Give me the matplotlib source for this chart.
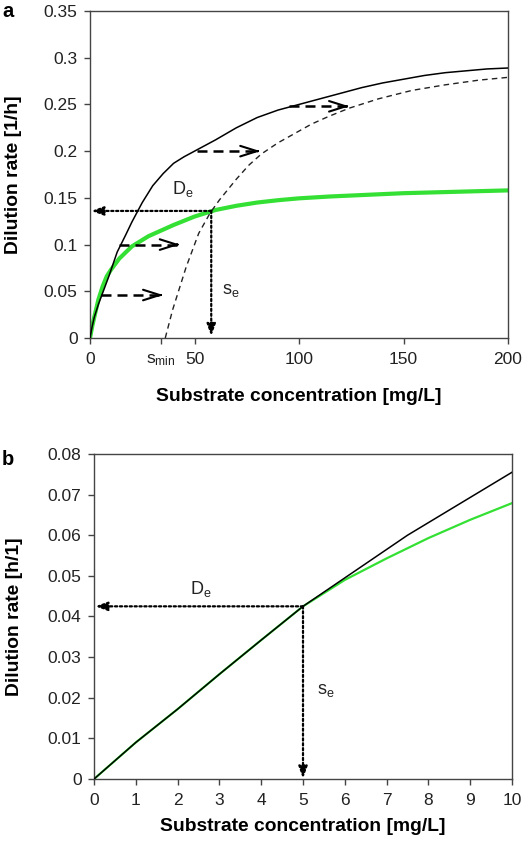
import matplotlib
matplotlib.use("Agg")
import matplotlib.pyplot as plt

plt.rcParams['font.family'] = ['Liberation Sans', 'DejaVu Sans']
plt.rcParams['mathtext.fontset'] = 'custom'
plt.rcParams['mathtext.rm'] = 'Liberation Sans'
plt.rcParams['mathtext.it'] = 'Liberation Sans:italic'

# ---- panel a data ----
s_black_a = [0, 1, 2, 4, 6, 9, 13, 17, 20, 25, 30, 35, 40, 45, 50, 60, 70, 80, 90, 100, 110, 120,
             130, 140, 150, 160, 170, 180, 190, 200]
d_black_a = [0, 0.012, 0.022, 0.036, 0.048, 0.066, 0.092, 0.110, 0.124, 0.145, 0.163, 0.176, 0.187,
             0.194, 0.200, 0.212, 0.225, 0.236, 0.244, 0.250, 0.256, 0.262, 0.268, 0.273, 0.277,
             0.281, 0.284, 0.286, 0.288, 0.289]

s_dash_a = [36, 39.5, 46, 52, 57.5, 62, 70, 76, 82, 90, 98, 106, 114, 124, 138, 154, 170, 186, 200]
d_dash_a = [0, 0.030, 0.076, 0.112, 0.134, 0.148, 0.170, 0.185, 0.197, 0.209, 0.219, 0.229, 0.237,
            0.246, 0.256, 0.265, 0.271, 0.276, 0.279]

s_green_a = [0, 1, 2, 4, 6, 8, 10, 14, 20, 28, 40, 50, 60, 70, 80, 90, 100, 115, 130, 150, 175, 200]
d_green_a = [0, 0.012, 0.022, 0.041, 0.055, 0.066, 0.073, 0.085, 0.098, 0.109, 0.121, 0.130, 0.137,
             0.1415, 0.145, 0.1475, 0.1495, 0.1515, 0.153, 0.155, 0.1565, 0.158]

# horizontal shift arrows: level, start, end
arrow_y = [0.046, 0.100, 0.200, 0.248]
arrow_x0 = [5.3, 14, 51.3, 95]
arrow_x1 = [35, 43, 81.5, 124]

se_a, De_a = 58, 0.136
s_min = 34

# ---- panel b data ----
s_black_b = [0, 1, 2, 3, 4, 5, 6, 7, 7.5, 8, 9, 10]
d_black_b = [0, 0.0090, 0.0172, 0.0258, 0.0342, 0.0425, 0.0495, 0.0565, 0.0600, 0.0631, 0.0693, 0.0755]

s_green_b = [0, 1, 2, 3, 4, 5, 6, 7, 8, 9, 10]
d_green_b = [0, 0.0090, 0.0172, 0.0258, 0.0342, 0.0425, 0.0490, 0.0543, 0.0593, 0.0638, 0.0679]

se_b, De_b = 5, 0.0425

txt = '#222222'
spine_c = '#444444'
green = '#33e033'

fig = plt.figure(figsize=(5.24, 8.41), dpi=100)
axA = fig.add_axes([0.1718, 0.5981, 0.7977, 0.3888])
axB = fig.add_axes([0.1794, 0.0737, 0.7977, 0.3865])


def style(ax):
    for sp in ax.spines.values():
        sp.set_color(spine_c)
        sp.set_linewidth(1.0)
    ax.tick_params(direction='out', length=4, width=1, color=spine_c,
                   labelsize=12.5, labelcolor=txt, top=False, right=False)
    ax.tick_params(axis='x', pad=6)
    ax.tick_params(axis='y', pad=5)


def dotted_arrow(ax, xy, xytext):
    ax.annotate('', xy=xy, xytext=xytext,
                arrowprops=dict(arrowstyle='-|>,head_length=0.6,head_width=0.22',
                                linestyle=(0, (1, 1.2)), lw=1.6, color='k',
                                mutation_scale=12, shrinkA=0, shrinkB=0))


# ---------- panel a ----------
style(axA)
axA.plot(s_green_a, d_green_a, color=green, lw=3.0, solid_capstyle='round', zorder=2)
axA.plot(s_black_a, d_black_a, color='k', lw=1.1, zorder=3)
axA.plot(s_dash_a, d_dash_a, color='#222222', lw=1.0, linestyle=(0, (4, 3)), zorder=3)

for y, x0, x1 in zip(arrow_y, arrow_x0, arrow_x1):
    axA.plot([x0, x1 - 1], [y, y], color='k', lw=1.8, dashes=(4, 2.4), zorder=4)
    axA.annotate('', xy=(x1, y), xytext=(x1 - 1.5, y),
                 arrowprops=dict(arrowstyle='->,head_length=1.2,head_width=0.38',
                                 lw=1.5, color='k', mutation_scale=10,
                                 shrinkA=0, shrinkB=0), zorder=4)

dotted_arrow(axA, (0.6, De_a), (se_a, De_a))
dotted_arrow(axA, (se_a, 0.002), (se_a, De_a))

axA.text(44.6, 0.160, r'D$_\mathrm{e}$', fontsize=13, color=txt, ha='center', va='center')
axA.text(67.6, 0.051, r's$_\mathrm{e}$', fontsize=13, color=txt, ha='center', va='center')

axA.set_xlim(0, 200)
axA.set_ylim(0, 0.35)
axA.set_xticks([0, s_min, 50, 100, 150, 200])
axA.set_xticklabels(['0', r's$_\mathrm{min}$', '50', '100', '150', '200'])
axA.set_yticks([0, 0.05, 0.1, 0.15, 0.2, 0.25, 0.3, 0.35])
axA.set_yticklabels(['0', '0.05', '0.1', '0.15', '0.2', '0.25', '0.3', '0.35'])
axA.set_xlabel('Substrate concentration [mg/L]', fontsize=13.9, fontweight='bold', color='k')
axA.set_ylabel('Dilution rate [1/h]', fontsize=13.9, fontweight='bold', color='k')
axA.xaxis.set_label_coords(0.5, -0.153)
axA.yaxis.set_label_coords(-0.163, 0.5)

# ---------- panel b ----------
style(axB)
axB.plot(s_green_b, d_green_b, color=green, lw=1.6, zorder=2)
axB.plot(s_black_b, d_black_b, color='k', lw=1.1, zorder=3)

dotted_arrow(axB, (0.03, De_b), (se_b, De_b))
dotted_arrow(axB, (se_b, 0.0001), (se_b, De_b))

axB.text(2.56, 0.0468, r'D$_\mathrm{e}$', fontsize=13, color=txt, ha='center', va='center')
axB.text(5.55, 0.0219, r's$_\mathrm{e}$', fontsize=13, color=txt, ha='center', va='center')

axB.set_xlim(0, 10)
axB.set_ylim(0, 0.08)
axB.set_xticks(range(0, 11))
axB.set_yticks([0, 0.01, 0.02, 0.03, 0.04, 0.05, 0.06, 0.07, 0.08])
axB.set_yticklabels(['0', '0.01', '0.02', '0.03', '0.04', '0.05', '0.06', '0.07', '0.08'])
axB.set_xlabel('Substrate concentration [mg/L]', fontsize=13.9, fontweight='bold', color='k')
axB.set_ylabel('Dilution rate [h/1]', fontsize=13.9, fontweight='bold', color='k')
axB.xaxis.set_label_coords(0.5, -0.12)
axB.yaxis.set_label_coords(-0.170, 0.5)

fig.text(0.004, 1 - 17 / 841, 'a', fontsize=14.5, fontweight='bold', va='baseline', ha='left')
fig.text(0.004, 1 - 465 / 841, 'b', fontsize=14.5, fontweight='bold', va='baseline', ha='left')

fig.savefig('out.png', dpi=100)
